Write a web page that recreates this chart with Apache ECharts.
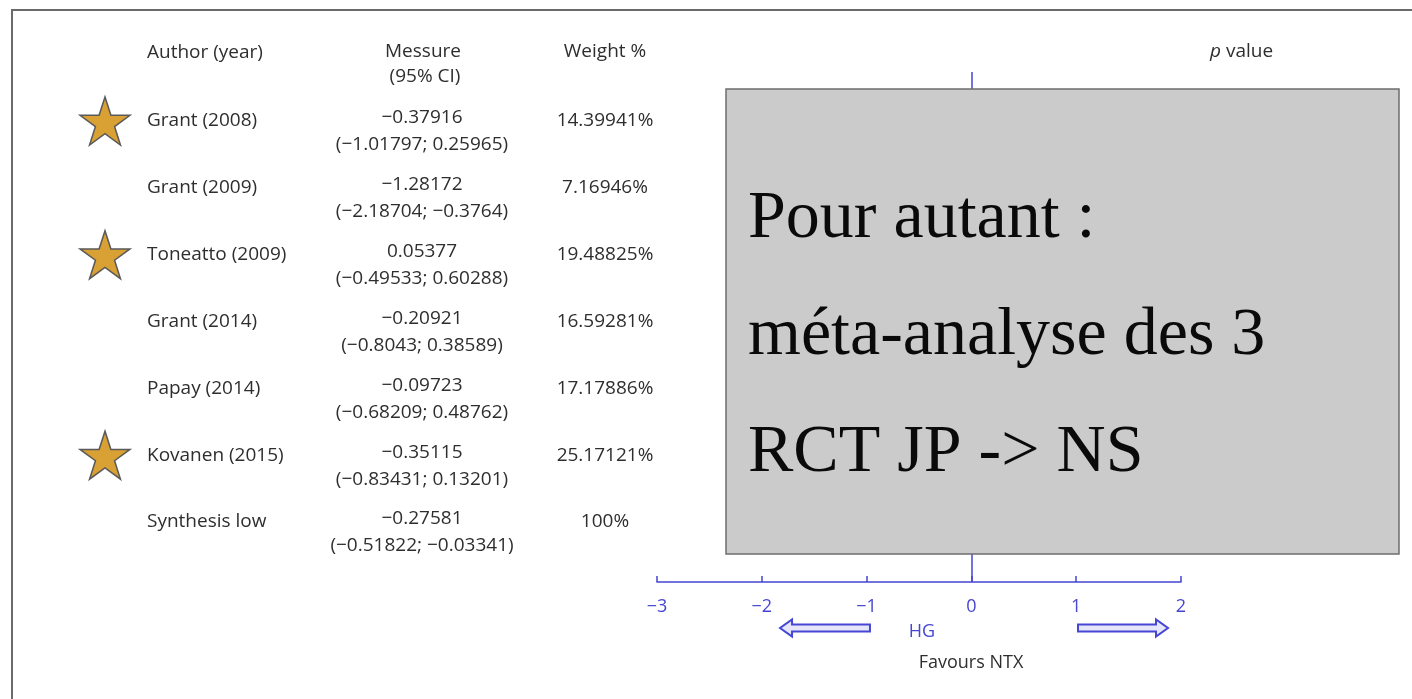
<!DOCTYPE html>
<html>
<head>
<meta charset="utf-8">
<script src="https://cdn.jsdelivr.net/npm/echarts@6/dist/echarts.min.js"></script>
<style>
html,body{margin:0;padding:0;background:#fff;}
#chart{width:1412px;height:699px;}
</style>
</head>
<body>
<div id="chart"></div>
<script>
// ---- data ----
const authors   = ['Grant (2008)','Grant (2009)','Toneatto (2009)','Grant (2014)','Papay (2014)','Kovanen (2015)','Synthesis low'];
const estimates = [-0.37916, -1.28172, 0.05377, -0.20921, -0.09723, -0.35115, -0.27581];
const lowers    = [-1.01797, -2.18704, -0.49533, -0.8043, -0.68209, -0.83431, -0.51822];
const uppers    = [0.25965, -0.3764, 0.60288, 0.38589, 0.48762, 0.13201, -0.03341];
const weights   = [14.39941, 7.16946, 19.48825, 16.59281, 17.17886, 25.17121, 100];
const starred   = [true, false, true, false, false, true, false];
const xTicks    = [-3, -2, -1, 0, 1, 2];
const boxLines  = ['Pour autant :', 'méta-analyse des 3', 'RCT JP -> NS'];
const arrowLeft  = [-0.968, -1.826];  // tail, tip (axis units)
const arrowRight = [1.017, 1.876];

const BLUE = '#4646d2';
const TXT = '#2e2e2e';
const SANS = '"Open Sans", "Noto Sans", sans-serif';
const FS = 19;
const fmt = v => String(v).replace(/-/g, '\u2212');

const chart = echarts.init(document.getElementById('chart'), null, {renderer: 'canvas'});

const forestData = authors.map((a, i) => [i, estimates[i], lowers[i], uppers[i], weights[i]]);
const starData = authors.map((a, i) => starred[i] ? [0, a] : null).filter(d => d);

const starPath = 'path://M50,0 L61.8,36.2 L100,36.2 L69.1,58.6 L80.9,95.1 L50,72.7 L19.1,95.1 L30.9,58.6 L0,36.2 L38.2,36.2 Z';

const catLabelBase = {
  interval: 0, showMinLabel: true, showMaxLabel: true, hideOverlap: false,
  margin: 0, color: TXT, fontSize: FS, fontFamily: SANS
};

const option = {
  animation: false,
  backgroundColor: '#ffffff',
  grid: [
    {left: 657, right: 231, top: 72, bottom: 117},
    {left: 63, right: 1265, top: 87.58, bottom: 143.58}
  ],
  xAxis: [
    {
      gridIndex: 0, type: 'value', min: xTicks[0], max: xTicks[xTicks.length - 1], interval: 1,
      position: 'bottom',
      axisLine: {show: true, onZero: false, lineStyle: {color: BLUE, width: 1.5}},
      axisTick: {show: true, inside: true, length: 6, lineStyle: {color: BLUE, width: 1.5}},
      axisLabel: {color: BLUE, fontSize: 18, fontFamily: SANS, margin: 16, formatter: v => fmt(v),
                  showMinLabel: true, showMaxLabel: true},
      splitLine: {show: false}
    },
    {gridIndex: 1, type: 'value', min: -1, max: 1, show: false}
  ],
  yAxis: [
    {gridIndex: 0, type: 'value', inverse: true, min: -0.733, max: 6.9, show: false},
    {
      gridIndex: 1, type: 'category', inverse: true, data: authors, position: 'right',
      axisLine: {show: false}, axisTick: {show: false},
      axisLabel: Object.assign({}, catLabelBase, {align: 'left'})
    },
    {
      gridIndex: 1, type: 'category', inverse: true, data: authors, position: 'right', offset: 275,
      axisLine: {show: false}, axisTick: {show: false},
      axisLabel: Object.assign({}, catLabelBase, {
        align: 'center',
        formatter: (v, i) => '{e| }\n{a|' + fmt(estimates[i]) + '}\n{a|(' + fmt(lowers[i]) + '; ' + fmt(uppers[i]) + ')}',
        rich: {
          e: {fontSize: 1, lineHeight: 21},
          a: {fontSize: FS, fontFamily: SANS, color: TXT, lineHeight: 27, align: 'center'}
        }
      })
    },
    {
      gridIndex: 1, type: 'category', inverse: true, data: authors, position: 'right', offset: 458,
      axisLine: {show: false}, axisTick: {show: false},
      axisLabel: Object.assign({}, catLabelBase, {
        align: 'center',
        formatter: (v, i) => weights[i] + '%'
      })
    }
  ],
  series: [
    {
      type: 'custom', xAxisIndex: 0, yAxisIndex: 0, z: 2,
      data: forestData,
      encode: {x: [1, 2, 3], y: 0},
      renderItem: (params, api) => {
        const y = api.value(0), est = api.value(1), lo = api.value(2), hi = api.value(3), w = api.value(4);
        if (params.dataIndex === authors.length - 1) {
          const pts = [api.coord([lo, y]), api.coord([est, y - 0.25]), api.coord([hi, y]), api.coord([est, y + 0.25])];
          return {type: 'polygon', shape: {points: pts}, style: {fill: BLUE}};
        }
        const a = api.coord([lo, y]), b = api.coord([hi, y]), c = api.coord([est, y]);
        const s = Math.sqrt(w) * 4;
        return {
          type: 'group', children: [
            {type: 'line', shape: {x1: a[0], y1: a[1], x2: b[0], y2: b[1]}, style: {stroke: BLUE, lineWidth: 1.5}},
            {type: 'rect', shape: {x: c[0] - s / 2, y: c[1] - s / 2, width: s, height: s}, style: {fill: BLUE}}
          ]
        };
      }
    },
    {
      type: 'line', xAxisIndex: 0, yAxisIndex: 0, data: [], silent: true,
      markLine: {
        symbol: 'none', silent: true, label: {show: false},
        lineStyle: {color: BLUE, type: 'solid', width: 1.5},
        data: [{xAxis: 0}]
      }
    },
    {
      type: 'scatter', xAxisIndex: 1, yAxisIndex: 1, data: starData,
      symbol: starPath, symbolSize: [50, 48],
      itemStyle: {color: '#d9a033', borderColor: '#5a5a5a', borderWidth: 1.5, opacity: 1}
    }
  ]
};
chart.setOption(option);

function arrowPts(tail, tip, cy) {
  const t = chart.convertToPixel({xAxisIndex: 0}, tail);
  const p = chart.convertToPixel({xAxisIndex: 0}, tip);
  const dir = p > t ? 1 : -1;
  const hb = p - dir * 12;
  return [[t, cy - 3.5], [hb, cy - 3.5], [hb, cy - 8.5], [p, cy], [hb, cy + 8.5], [hb, cy + 3.5], [t, cy + 3.5]];
}

const font = FS + 'px ' + SANS;
const graphics = [
  {type: 'rect', id: 'frame', z: 50, shape: {x: 12, y: 10, width: 1500, height: 800},
   style: {fill: 'none', stroke: '#6a6a6a', lineWidth: 2}},
  {type: 'text', id: 'h1', z: 50, x: 147, y: 53, style: {text: 'Author (year)', fill: TXT, font: font, textAlign: 'left', textVerticalAlign: 'middle'}},
  {type: 'text', id: 'h2', z: 50, x: 423, y: 52, style: {text: 'Messure', fill: TXT, font: font, textAlign: 'center', textVerticalAlign: 'middle'}},
  {type: 'text', id: 'h3', z: 50, x: 425, y: 77, style: {text: '(95% CI)', fill: TXT, font: font, textAlign: 'center', textVerticalAlign: 'middle'}},
  {type: 'text', id: 'h4', z: 50, x: 605, y: 52, style: {text: 'Weight %', fill: TXT, font: font, textAlign: 'center', textVerticalAlign: 'middle'}},
  {type: 'text', id: 'h5', z: 50, x: 1210, y: 52, style: {
    text: '{i|p} value', fill: TXT, font: font, textAlign: 'left', textVerticalAlign: 'middle',
    rich: {i: {fontStyle: 'italic', fontSize: FS, fontFamily: SANS, fill: TXT}}}},
  {type: 'polygon', id: 'al', z: 50, shape: {points: arrowPts(arrowLeft[0], arrowLeft[1], 628)},
   style: {fill: '#e6e6fb', stroke: BLUE, lineWidth: 2}},
  {type: 'polygon', id: 'ar', z: 50, shape: {points: arrowPts(arrowRight[0], arrowRight[1], 628)},
   style: {fill: '#e6e6fb', stroke: BLUE, lineWidth: 2}},
  {type: 'text', id: 'hg', z: 50, x: 922, y: 632, style: {text: 'HG', fill: BLUE, font: '18px ' + SANS, textAlign: 'center', textVerticalAlign: 'middle'}},
  {type: 'text', id: 'fav', z: 50, x: 971, y: 663, style: {text: 'Favours NTX', fill: TXT, font: '18px ' + SANS, textAlign: 'center', textVerticalAlign: 'middle'}},
  {type: 'rect', id: 'box', z: 100, shape: {x: 726, y: 89, width: 673, height: 465},
   style: {fill: '#cbcbcb', stroke: '#6e6e6e', lineWidth: 1.5}}
];
boxLines.forEach((t, i) => {
  graphics.push({type: 'text', id: 'bl' + i, z: 101, x: 748, y: 219 + i * 117,
    style: {text: t, fill: '#0a0a0a', font: '68px "Liberation Serif", "Times New Roman", serif', textAlign: 'left', textVerticalAlign: 'middle'}});
});
chart.setOption({graphic: graphics});
</script>
</body>
</html>
